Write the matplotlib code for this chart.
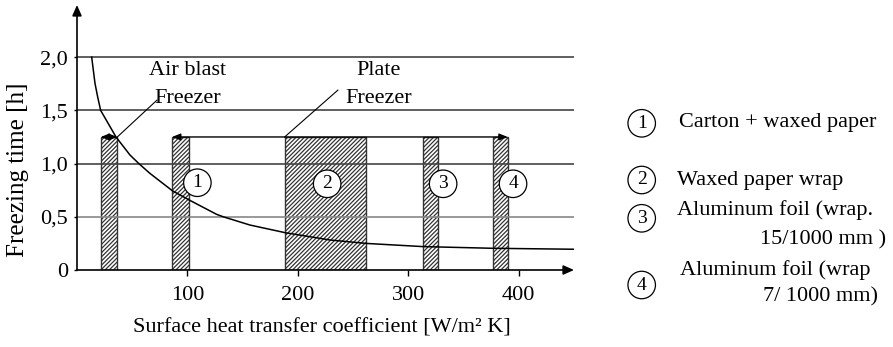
import matplotlib
matplotlib.use('Agg')
import matplotlib.pyplot as plt

plt.rcParams['font.family'] = ['Liberation Serif', 'DejaVu Serif']
plt.rcParams['hatch.linewidth'] = 0.9

W, H = 893, 347

# ---- data ----
curve_x = [13.3, 16.3, 18.7, 21.4, 35.3, 48, 56, 66, 86.3, 101.7, 126.4, 132.4,
           156.6, 188.8, 229, 261.5, 313, 376.5, 450]
curve_y = [2.0, 1.753, 1.627, 1.5, 1.25, 1.08, 1.0, 0.908, 0.745, 0.657, 0.523, 0.50,
           0.4225, 0.35, 0.282, 0.25, 0.22, 0.204, 0.195]

bar_left = [21.5, 86, 188, 313.5, 377]
bar_right = [36.5, 101.5, 261.5, 326.5, 390]
bar_height = 1.25

circle_labels = ['1', '2', '3', '4']
circle_x = [109, 226.5, 331.5, 394.8]
circle_y = [0.82, 0.81, 0.81, 0.81]

grid_levels = [0.5, 1.0, 1.5, 2.0]
ytick_vals = [0, 0.5, 1.0, 1.5, 2.0]
ytick_labels = ['0', '0,5', '1,0', '1,5', '2,0']
xtick_vals = [100, 200, 300, 400]
xtick_labels = ['100', '200', '300', '400']

legend_nums = ['1', '2', '3', '4']
legend_texts = ['Carton + waxed paper', 'Waxed paper wrap',
                'Aluminum foil (wrap.', 'Aluminum foil (wrap']
legend_cont = ['', '', '15/1000 mm )', '7/ 1000 mm)']

FS = 16

fig = plt.figure(figsize=(W / 100, H / 100), dpi=100)
ax = fig.add_axes([77 / W, 1 - 270 / H, (574 - 77) / W, (270 - 5) / H])
ax.set_xlim(0, 450)
ax.set_ylim(0, 2.49)
for s in ax.spines.values():
    s.set_visible(False)

# bars
widths = [r - l for l, r in zip(bar_left, bar_right)]
ax.bar(bar_left, [bar_height] * len(bar_left), width=widths, align='edge',
       facecolor='white', edgecolor='#333333', hatch='////////', lw=1.0, zorder=2)

# grid lines
gcols = ['#888888', '#444444', '#444444', '#444444']
for lev, c in zip(grid_levels, gcols):
    ax.plot([0, 450], [lev, lev], color=c, lw=1.2, zorder=3)

# curve
ax.plot(curve_x, curve_y, color='black', lw=1.1, zorder=4)

# axis arrows
ax.annotate('', xy=(0, 2.49), xytext=(0, 0),
            arrowprops=dict(arrowstyle='-|>,head_length=0.45,head_width=0.2', lw=1.2,
                            color='black', mutation_scale=14, shrinkA=0, shrinkB=0),
            annotation_clip=False, zorder=6)
ax.annotate('', xy=(450, 0), xytext=(0, 0),
            arrowprops=dict(arrowstyle='-|>,head_length=0.45,head_width=0.2', lw=1.2,
                            color='black', mutation_scale=14, shrinkA=0, shrinkB=0),
            annotation_clip=False, zorder=6)

# range arrows
ax.annotate('', xy=(bar_left[0], bar_height), xytext=(bar_right[0], bar_height),
            arrowprops=dict(arrowstyle='<|-|>,head_length=0.5,head_width=0.2', lw=1,
                            color='black', mutation_scale=10, shrinkA=0, shrinkB=0), zorder=5)
ax.annotate('', xy=(bar_left[1], bar_height), xytext=(bar_right[4], bar_height),
            arrowprops=dict(arrowstyle='<|-|>,head_length=0.5,head_width=0.2', lw=1,
                            color='black', mutation_scale=10, shrinkA=0, shrinkB=0), zorder=5)

# leader lines and labels
ax.plot([bar_right[0], 72.4], [bar_height, 1.596], color='black', lw=0.8, zorder=5)
ax.plot([bar_left[2], 236.2], [bar_height, 1.69], color='black', lw=0.8, zorder=5)
ax.text(100, 1.87, 'Air blast', ha='center', va='center', fontsize=FS)
ax.text(100.5, 1.615, 'Freezer', ha='center', va='center', fontsize=FS)
ax.text(273.3, 1.87, 'Plate', ha='center', va='center', fontsize=FS)
ax.text(273.3, 1.615, 'Freezer', ha='center', va='center', fontsize=FS)

# circled numbers
for lab, cx, cy in zip(circle_labels, circle_x, circle_y):
    ax.text(cx, cy, lab, ha='center', va='center', fontsize=14, zorder=7,
            bbox=dict(boxstyle='circle,pad=0.27', fc='white', ec='black', lw=0.9))

# ticks
ax.set_yticks(ytick_vals, ytick_labels)
ax.set_xticks(xtick_vals, xtick_labels)
ax.tick_params(axis='y', length=2.5, width=1, pad=4, labelsize=FS)
ax.tick_params(axis='x', length=4.5, width=1, pad=7, labelsize=FS)

# axis labels
fig.text(18 / W, 1 - 170 / H, 'Freezing time [h]', rotation=90, ha='center',
         va='center', fontsize=18)
fig.text(321.7 / W, 1 - 328 / H, 'Surface heat transfer coefficient [W/m² K]',
         ha='center', va='center', fontsize=FS)

# legend
leg_circle_y = [123.3, 180, 218.3, 285]
leg_text_pos = [(679, 123), (676.7, 180), (676.7, 210), (680, 270)]
leg_cont_pos = [None, None, (886, 240), (878, 297)]
for num, cy in zip(legend_nums, leg_circle_y):
    fig.text(641.7 / W, 1 - cy / H, num, ha='center', va='center', fontsize=14,
             bbox=dict(boxstyle='circle,pad=0.27', fc='white', ec='black', lw=0.9))
for txt, (tx, ty) in zip(legend_texts, leg_text_pos):
    fig.text(tx / W, 1 - ty / H, txt, ha='left', va='center', fontsize=FS)
for txt, pos in zip(legend_cont, leg_cont_pos):
    if pos is not None:
        fig.text(pos[0] / W, 1 - pos[1] / H, txt, ha='right', va='center', fontsize=FS)

fig.savefig('out.png', dpi=100)
